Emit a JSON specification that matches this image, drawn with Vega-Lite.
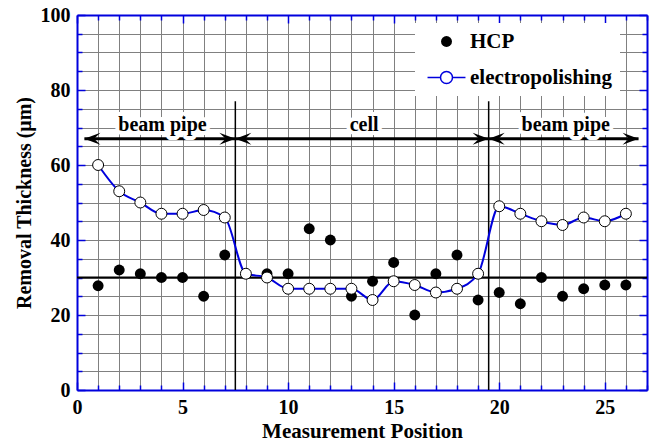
{
  "$schema": "https://vega.github.io/schema/vega-lite/v6.json",
  "width": 570,
  "height": 375,
  "autosize": "none",
  "padding": {"left": 77, "top": 15, "right": 5, "bottom": 51},
  "config": {
    "view": {"stroke": null},
    "font": "'Liberation Serif', 'Times New Roman', serif",
    "text": {"font": "'Liberation Serif', 'Times New Roman', serif"}
  },
  "datasets": {
    "main": [
      {"pos": 1, "series": "HCP", "value": 27.8},
      {"pos": 2, "series": "HCP", "value": 32},
      {"pos": 3, "series": "HCP", "value": 31},
      {"pos": 4, "series": "HCP", "value": 30},
      {"pos": 5, "series": "HCP", "value": 30},
      {"pos": 6, "series": "HCP", "value": 25},
      {"pos": 7, "series": "HCP", "value": 36},
      {"pos": 9, "series": "HCP", "value": 31},
      {"pos": 10, "series": "HCP", "value": 31},
      {"pos": 11, "series": "HCP", "value": 43},
      {"pos": 12, "series": "HCP", "value": 40},
      {"pos": 13, "series": "HCP", "value": 25},
      {"pos": 14, "series": "HCP", "value": 29},
      {"pos": 15, "series": "HCP", "value": 34},
      {"pos": 16, "series": "HCP", "value": 20},
      {"pos": 17, "series": "HCP", "value": 31},
      {"pos": 18, "series": "HCP", "value": 36},
      {"pos": 19, "series": "HCP", "value": 24},
      {"pos": 20, "series": "HCP", "value": 26},
      {"pos": 21, "series": "HCP", "value": 23},
      {"pos": 22, "series": "HCP", "value": 30},
      {"pos": 23, "series": "HCP", "value": 25},
      {"pos": 24, "series": "HCP", "value": 27},
      {"pos": 25, "series": "HCP", "value": 28},
      {"pos": 26, "series": "HCP", "value": 28},
      {"pos": 1, "series": "electropolishing", "value": 60},
      {"pos": 2, "series": "electropolishing", "value": 53},
      {"pos": 3, "series": "electropolishing", "value": 50},
      {"pos": 4, "series": "electropolishing", "value": 47},
      {"pos": 5, "series": "electropolishing", "value": 47},
      {"pos": 6, "series": "electropolishing", "value": 48},
      {"pos": 7, "series": "electropolishing", "value": 46},
      {"pos": 8, "series": "electropolishing", "value": 31},
      {"pos": 9, "series": "electropolishing", "value": 30},
      {"pos": 10, "series": "electropolishing", "value": 27},
      {"pos": 11, "series": "electropolishing", "value": 27},
      {"pos": 12, "series": "electropolishing", "value": 27},
      {"pos": 13, "series": "electropolishing", "value": 27},
      {"pos": 14, "series": "electropolishing", "value": 24},
      {"pos": 15, "series": "electropolishing", "value": 29},
      {"pos": 16, "series": "electropolishing", "value": 28},
      {"pos": 17, "series": "electropolishing", "value": 26},
      {"pos": 18, "series": "electropolishing", "value": 27},
      {"pos": 19, "series": "electropolishing", "value": 31},
      {"pos": 20, "series": "electropolishing", "value": 49},
      {"pos": 21, "series": "electropolishing", "value": 47},
      {"pos": 22, "series": "electropolishing", "value": 45},
      {"pos": 23, "series": "electropolishing", "value": 44},
      {"pos": 24, "series": "electropolishing", "value": 46},
      {"pos": 25, "series": "electropolishing", "value": 45},
      {"pos": 26, "series": "electropolishing", "value": 47}
    ],
    "regions": [
      {"label": "beam pipe", "start": 0.35, "end": 7.5, "mid": 4.05},
      {"label": "cell", "start": 7.5, "end": 19.5, "mid": 13.6},
      {"label": "beam pipe", "start": 19.5, "end": 26.6, "mid": 23.15}
    ],
    "bounds": [{"b": 7.5}, {"b": 19.5}]
  },
  "resolve": {"axis": {"x": "independent", "y": "independent"}},
  "layer": [
    {
      "data": {"name": "bounds"},
      "mark": {"type": "rule", "color": "black", "strokeWidth": 1.5},
      "encoding": {
        "x": {
          "field": "b", "type": "quantitative",
          "scale": {"domain": [0, 27], "nice": false, "zero": false},
          "axis": {
            "orient": "bottom",
            "values": [0,1,2,3,4,5,6,7,8,9,10,11,12,13,14,15,16,17,18,19,20,21,22,23,24,25,26,27],
            "labelExpr": "datum.value % 5 === 0 && datum.value < 27 ? datum.label : ''",
            "grid": true, "gridColor": "#808080", "gridWidth": 1,
            "gridOpacity": {"condition": {"test": "datum.value === 0 || datum.value === 27", "value": 0}, "value": 1},
            "domainColor": "#0000dd", "domainWidth": 2,
            "tickColor": "#0000dd", "tickWidth": 1.5,
            "tickSize": {"condition": {"test": "datum.value % 5 === 0", "value": -8}, "value": -5},
            "labelFont": "'Liberation Serif', 'Times New Roman', serif", "labelFontWeight": "bold", "labelFontSize": 20, "labelColor": "black",
            "labelPadding": 15, "labelFlush": false, "labelOverlap": false,
            "title": "Measurement Position", "titleFont": "'Liberation Serif', 'Times New Roman', serif", "titleFontSize": 21,
            "titleFontWeight": "bold", "titleColor": "black", "titlePadding": 0
          }
        },
        "y": {
          "datum": 0, "type": "quantitative",
          "scale": {"domain": [0, 100], "nice": false},
          "axis": {
            "orient": "left",
            "values": [0,5,10,15,20,25,30,35,40,45,50,55,60,65,70,75,80,85,90,95,100],
            "labelExpr": "datum.value % 20 === 0 ? datum.label : ''",
            "grid": true, "gridColor": "#808080", "gridWidth": 1,
            "gridOpacity": {"condition": {"test": "datum.value === 0 || datum.value === 100", "value": 0}, "value": 1},
            "domainColor": "#0000dd", "domainWidth": 2,
            "tickColor": "#0000dd", "tickWidth": 1.5,
            "tickSize": {"condition": {"test": "datum.value % 20 === 0", "value": -8}, "value": -5},
            "labelFont": "'Liberation Serif', 'Times New Roman', serif", "labelFontWeight": "bold", "labelFontSize": 20, "labelColor": "black",
            "labelPadding": 15, "labelFlush": false, "labelOverlap": false,
            "title": "Removal Thickness (μm)", "titleFont": "'Liberation Serif', 'Times New Roman', serif", "titleFontSize": 20,
            "titleFontWeight": "bold", "titleColor": "black", "titlePadding": 6
          }
        },
        "y2": {"datum": 77}
      }
    },
    {
      "data": {"name": "regions"},
      "mark": {"type": "rule", "color": "black", "strokeWidth": 3},
      "encoding": {
        "x": {
          "field": "start", "type": "quantitative",
          "axis": {
            "orient": "top",
            "values": [0,1,2,3,4,5,6,7,8,9,10,11,12,13,14,15,16,17,18,19,20,21,22,23,24,25,26,27],
            "labels": false, "grid": false, "title": null,
            "domainColor": "#0000dd", "domainWidth": 2,
            "tickColor": "#0000dd", "tickWidth": 1.5,
            "tickSize": {"condition": {"test": "datum.value % 5 === 0", "value": -8}, "value": -5}
          }
        },
        "x2": {"field": "end"},
        "y": {
          "datum": 67, "type": "quantitative",
          "axis": {
            "orient": "right",
            "values": [0,5,10,15,20,25,30,35,40,45,50,55,60,65,70,75,80,85,90,95,100],
            "labels": false, "grid": false, "title": null,
            "domainColor": "#0000dd", "domainWidth": 2,
            "tickColor": "#0000dd", "tickWidth": 1.5,
            "tickSize": {"condition": {"test": "datum.value % 20 === 0", "value": -8}, "value": -5}
          }
        }
      }
    },
    {
      "data": {"values": [{}]},
      "mark": {"type": "rule", "color": "black", "strokeWidth": 2},
      "encoding": {
        "y": {"datum": 30, "type": "quantitative", "axis": null}
      }
    },
    {
      "data": {"name": "regions"},
      "mark": {"type": "point", "shape": "M0,0L1,-0.375L0.6,0L1,0.375Z", "size": 1024, "filled": true, "color": "black", "opacity": 1, "strokeWidth": 0},
      "encoding": {
        "x": {"field": "start", "type": "quantitative", "axis": null},
        "y": {"datum": 67, "type": "quantitative", "axis": null}
      }
    },
    {
      "data": {"name": "regions"},
      "mark": {"type": "point", "shape": "M0,0L-1,-0.375L-0.6,0L-1,0.375Z", "size": 1024, "filled": true, "color": "black", "opacity": 1, "strokeWidth": 0},
      "encoding": {
        "x": {"field": "end", "type": "quantitative", "axis": null},
        "y": {"datum": 67, "type": "quantitative", "axis": null}
      }
    },
    {
      "data": {"name": "regions"},
      "mark": {"type": "text", "font": "'Liberation Serif', 'Times New Roman', serif", "fontSize": 20, "fontWeight": "bold", "baseline": "middle", "align": "center", "fill": "white", "stroke": "white", "strokeWidth": 8, "strokeJoin": "round"},
      "encoding": {
        "x": {"field": "mid", "type": "quantitative", "axis": null},
        "y": {"datum": 70.7, "type": "quantitative", "axis": null},
        "text": {"field": "label"}
      }
    },
    {
      "data": {"name": "regions"},
      "mark": {"type": "text", "font": "'Liberation Serif', 'Times New Roman', serif", "fontSize": 20, "fontWeight": "bold", "baseline": "middle", "align": "center", "color": "black"},
      "encoding": {
        "x": {"field": "mid", "type": "quantitative", "axis": null},
        "y": {"datum": 70.7, "type": "quantitative", "axis": null},
        "text": {"field": "label"}
      }
    },
    {
      "data": {"name": "main"},
      "transform": [{"filter": "datum.series === 'HCP'"}],
      "mark": {"type": "point", "shape": "circle", "filled": true, "size": 120, "opacity": 1, "strokeWidth": 0},
      "encoding": {
        "x": {"field": "pos", "type": "quantitative", "axis": null},
        "y": {"field": "value", "type": "quantitative", "axis": null},
        "fill": {
          "field": "series", "type": "nominal",
          "scale": {"domain": ["HCP", "electropolishing"], "range": ["#000000", "#ffffff"]},
          "legend": {
            "title": null,
            "orient": "none", "legendX": 338, "legendY": 8,
            "direction": "vertical",
            "fillColor": "white", "padding": 8, "rowPadding": 14,
            "symbolSize": 196, "symbolOffset": 13, "labelOffset": 13,
            "labelFont": "'Liberation Serif', 'Times New Roman', serif", "labelFontSize": 21, "labelFontWeight": "bold", "labelColor": "black",
            "labelLimit": 300,
            "encoding": {
              "symbols": {
                "shape": {"value": {"expr": "datum.value === 'HCP' ? 'circle' : 'M-2.71,0L-0.857,0M0.857,0L2.71,0M0.857,0A0.857,0.857,0,1,1,-0.857,0A0.857,0.857,0,1,1,0.857,0'"}},
                "size": {"value": {"expr": "datum.value === 'HCP' ? 120 : 196"}},
                "stroke": {"value": {"expr": "datum.value === 'HCP' ? 'transparent' : '#0000dd'"}},
                "strokeWidth": {"value": 1.5}
              }
            }
          }
        }
      }
    },
    {
      "data": {"name": "main"},
      "transform": [{"filter": "datum.series === 'electropolishing'"}],
      "mark": {"type": "line", "interpolate": "monotone", "color": "#0000dd", "strokeWidth": 2},
      "encoding": {
        "x": {"field": "pos", "type": "quantitative", "axis": null},
        "y": {"field": "value", "type": "quantitative", "axis": null}
      }
    },
    {
      "data": {"name": "main"},
      "transform": [{"filter": "datum.series === 'electropolishing'"}],
      "mark": {"type": "point", "shape": "circle", "filled": true, "size": 120, "opacity": 1, "stroke": "black", "strokeWidth": 1},
      "encoding": {
        "x": {"field": "pos", "type": "quantitative", "axis": null},
        "y": {"field": "value", "type": "quantitative", "axis": null},
        "fill": {"field": "series", "type": "nominal"}
      }
    }
  ]
}
